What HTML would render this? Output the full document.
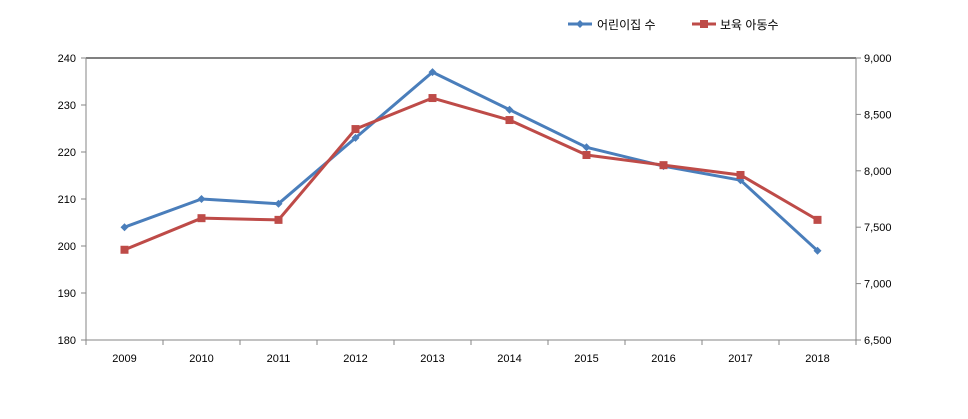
<!DOCTYPE html>
<html><head><meta charset="utf-8"><style>
body{margin:0;background:#fff}
svg text{font-family:"Liberation Sans","Noto Sans CJK KR",sans-serif;font-size:11px;fill:#000}
</style></head><body>
<svg id="c" width="968" height="414"></svg>
<script>
const categories=["2009","2010","2011","2012","2013","2014","2015","2016","2017","2018"];
const centers=[204,210,209,223,237,229,221,217,214,199];
const children=[7300,7580,7565,8370,8645,8450,8140,8050,7963,7565];
const leftTicks=[180,190,200,210,220,230,240];
const rightTicks=[6500,7000,7500,8000,8500,9000];
const rightLabels=["6,500","7,000","7,500","8,000","8,500","9,000"];
const L=86,R=856,T=58,B=340,ns="http://www.w3.org/2000/svg",svg=document.getElementById('c');
const yL=v=>B-(v-180)/60*(B-T),yR=v=>B-(v-6500)/2500*(B-T);
const bw=(R-L)/categories.length,x=i=>L+bw*(i+0.5);
function el(t,a,p){const e=document.createElementNS(ns,t);for(const k in a)e.setAttribute(k,a[k]);(p||svg).appendChild(e);return e;}
let g=el('line',{x1:L,y1:T,x2:R,y2:T,stroke:'#000'});

g=el('line',{x1:L,y1:T,x2:L,y2:B,stroke:'#868686'});

g=el('line',{x1:R,y1:T,x2:R,y2:B,stroke:'#868686'});

g=el('line',{x1:L,y1:B,x2:R,y2:B,stroke:'#868686'});

leftTicks.forEach(v=>{const y=yL(v);el('line',{x1:L-5,y1:y,x2:L,y2:y,stroke:'#868686'});
 const t=el('text',{x:L-10,y:y+4,'text-anchor':'end'});t.textContent=v;
 });
rightTicks.forEach((v,i)=>{const y=yR(v);el('line',{x1:R,y1:y,x2:R+5,y2:y,stroke:'#868686'});
 const t=el('text',{x:R+8,y:y+4});t.textContent=rightLabels[i];
 });
for(let i=0;i<=categories.length;i++){const xx=L+bw*i;el('line',{x1:xx,y1:B,x2:xx,y2:B+5,stroke:'#868686'});}
categories.forEach((c,i)=>{const t=el('text',{x:x(i),y:B+22,'text-anchor':'middle'});t.textContent=c;
 });
function series(vals,f,col,name,marker){
 const p=el('polyline',{points:vals.map((v,i)=>x(i)+','+f(v)).join(' '),fill:'none',stroke:col,'stroke-width':3,'stroke-linejoin':'round'});
 
 vals.forEach((v,i)=>{const cx=x(i),cy=f(v);let m;
  if(marker==='d')m=el('polygon',{points:`${cx},${cy-4} ${cx+4},${cy} ${cx},${cy+4} ${cx-4},${cy}`,fill:col});
  else m=el('rect',{x:cx-4,y:cy-4,width:8,height:8,fill:col});
  });
}
series(centers,yL,'#4a7ebb','daycare-centers','d');
series(children,yR,'#be4b48','children','s');
// legend
g=el('g',{});
el('line',{x1:568,y1:24,x2:592,y2:24,stroke:'#4a7ebb','stroke-width':3},g);
el('polygon',{points:'580,20 584,24 580,28 576,24',fill:'#4a7ebb'},g);
let t=el('text',{x:597,y:29,style:'font-size:12px'},g);t.textContent='어린이집 수';
g=el('g',{});
el('line',{x1:692,y1:24,x2:716,y2:24,stroke:'#be4b48','stroke-width':3},g);
el('rect',{x:700,y:20,width:8,height:8,fill:'#be4b48'},g);
t=el('text',{x:720,y:29,style:'font-size:12px'},g);t.textContent='보육 아동수';
</script></body></html>
